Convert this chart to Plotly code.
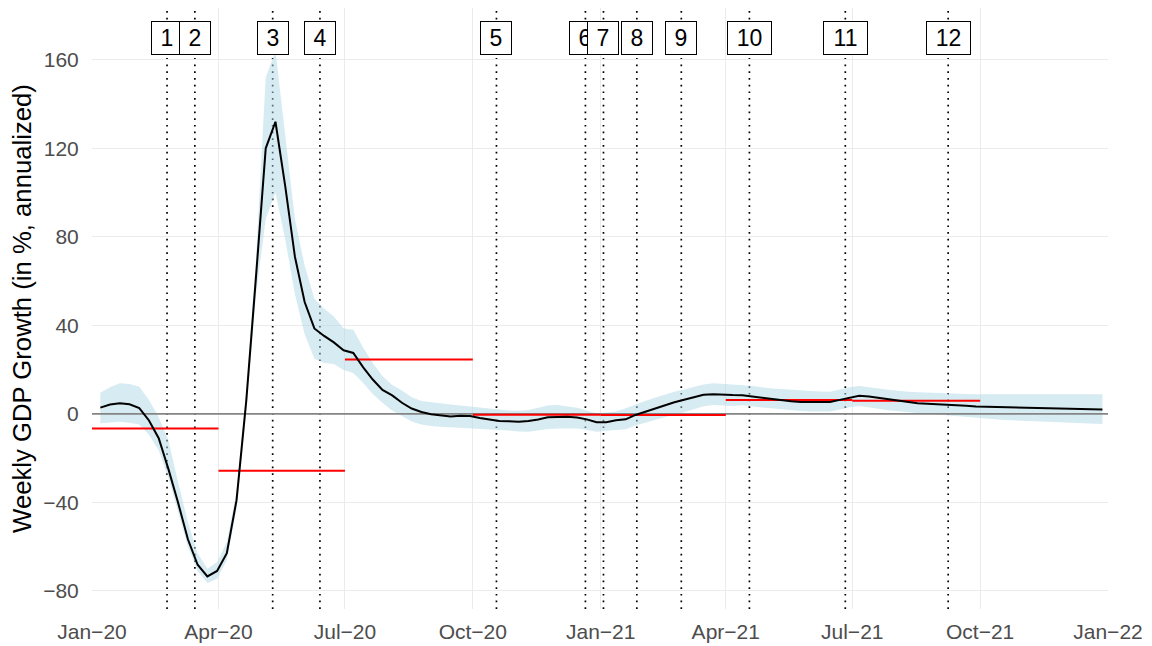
import pandas as pd
import plotly.graph_objects as go

# ---------------- data ----------------
dates = pd.date_range("2020-01-07", periods=104, freq="7D")

growth = [2.8, 4.2, 4.8, 4.3, 2.6, -3.0, -11.0, -25.0, -40.3, -56.7,
          -68.2, -73.5, -71.0, -63.0, -39.0, 6.0, 62.0, 120.0, 132.0, 103.0,
          71.0, 50.5, 38.6, 35.2, 32.3, 28.7, 27.5, 21.1, 15.5, 10.8,
          8.3, 5.0, 2.4, 0.8, -0.2, -0.8, -1.2, -0.9, -1.0, -1.9,
          -2.7, -3.2, -3.4, -3.6, -3.2, -2.6, -1.6, -1.3, -1.3, -1.7,
          -2.5, -3.8, -3.8, -2.9, -2.5, -0.5, 1.0, 2.4, 3.8, 5.2,
          6.4, 7.4, 8.6, 8.9, 8.6, 8.5, 8.4, 7.8, 7.2, 6.6,
          6.0, 5.7, 5.3, 5.2, 5.2, 5.3, 6.3, 7.3, 8.2, 7.8,
          7.2, 6.5, 5.8, 5.3, 4.8, 4.6, 4.4, 4.3, 4.0, 3.6,
          3.3, 3.2, 3.1, 3.0, 2.9, 2.8, 2.7, 2.5, 2.4, 2.3,
          2.2, 2.2, 2.2, 2.0]

upper = [9.5, 12.0, 13.8, 13.5, 12.2, 6.3, -1.6, -12.0, -31.0, -49.0,
         -63.0, -70.0, -67.0, -58.0, -35.0, 10.0, 70.0, 152.0, 164.0, 125.0,
         88.0, 67.0, 52.0, 47.5, 44.0, 38.6, 38.0, 30.0, 23.0, 17.0,
         13.0, 10.5, 7.5, 5.8, 5.2, 4.7, 4.2, 3.8, 3.3, 2.8,
         2.2, 1.7, 1.5, 1.4, 1.7, 2.8, 3.8, 4.0, 3.5, 2.8,
         1.5, 0.2, 0.6, 1.0, 2.5, 4.3, 5.8, 7.3, 8.8, 10.0,
         11.0, 12.2, 13.3, 13.8, 13.6, 13.2, 12.9, 12.6, 12.0, 11.5,
         11.2, 10.8, 10.5, 10.3, 10.1, 10.0, 11.0, 12.0, 12.6, 12.2,
         11.5, 10.9, 10.3, 10.0, 9.7, 9.5, 9.3, 9.2, 9.1, 9.0,
         8.9, 8.9, 8.9, 8.9, 8.9, 8.9, 8.9, 8.9, 8.9, 8.9,
         8.9, 8.9, 8.9, 8.9]

lower = [-4.3, -3.8, -3.6, -4.0, -4.8, -9.4, -16.5, -29.0, -44.0, -60.0,
         -71.0, -76.5, -74.5, -66.0, -43.0, 1.0, 54.0, 88.0, 100.0, 79.0,
         54.0, 36.0, 25.0, 23.0, 22.5, 19.8, 18.5, 14.0, 9.0, 5.0,
         1.5, -1.0, -3.5, -4.8, -5.5, -5.8, -6.1, -6.3, -6.6, -6.8,
         -7.0, -7.3, -7.5, -8.0, -8.1, -7.5, -6.8, -6.6, -6.6, -6.6,
         -7.2, -8.1, -7.6, -7.2, -7.0, -5.3, -4.0, -2.6, -1.3, -0.3,
         0.7, 2.0, 3.4, 4.0, 3.6, 3.5, 3.9, 3.3, 2.9, 2.5,
         2.0, 1.6, 1.3, 1.1, 1.0, 1.0, 2.0, 3.0, 3.5, 3.0,
         2.3, 1.6, 1.1, 0.8, 0.4, 0.0, -0.4, -0.8, -1.1, -1.5,
         -1.9, -2.2, -2.5, -2.8, -3.0, -3.3, -3.5, -3.7, -3.9, -4.1,
         -4.3, -4.4, -4.5, -4.6]

event_dates = ["2020-02-24", "2020-03-15", "2020-05-10", "2020-06-13",
               "2020-10-18", "2020-12-21", "2021-01-03", "2021-01-27",
               "2021-02-28", "2021-04-18", "2021-06-26", "2021-09-08"]
event_labels = ["1", "2", "3", "4", "5", "6", "7", "8", "9", "10", "11", "12"]

q_start = ["2020-01-01", "2020-04-01", "2020-07-01", "2020-10-01",
           "2021-01-01", "2021-04-01", "2021-07-01"]
q_end = ["2020-04-01", "2020-07-01", "2020-10-01", "2021-01-01",
         "2021-04-01", "2021-07-01", "2021-10-01"]
q_avg = [-6.6, -25.7, 24.6, -0.4, -0.5, 6.2, 5.9]

x_tick_dates = ["2020-01-01", "2020-04-01", "2020-07-01", "2020-10-01",
                "2021-01-01", "2021-04-01", "2021-07-01", "2021-10-01",
                "2022-01-01"]
x_tick_text = ["Jan\u221220", "Apr\u221220", "Jul\u221220", "Oct\u221220",
               "Jan\u221221", "Apr\u221221", "Jul\u221221", "Oct\u221221",
               "Jan\u221222"]
y_tick_vals = [-80, -40, 0, 40, 80, 120, 160]
y_tick_text = ["\u221280", "\u221240", "0", "40", "80", "120", "160"]

# ---------------- style ----------------
FONT = "Liberation Sans, Arial, Helvetica, sans-serif"
LABEL_Y = 170

fig = go.Figure()

# confidence band
fig.add_trace(go.Scatter(x=dates, y=upper, mode="lines", line=dict(width=0),
                         hoverinfo="skip", showlegend=False))
fig.add_trace(go.Scatter(x=dates, y=lower, mode="lines", line=dict(width=0),
                         fill="tonexty", fillcolor="rgba(173,216,230,0.5)",
                         hoverinfo="skip", showlegend=False))

# zero reference line (spans the x axis range)
fig.add_trace(go.Scatter(x=[x_tick_dates[0], x_tick_dates[-1]], y=[0, 0],
                         mode="lines", line=dict(color="#858585", width=1.8),
                         hoverinfo="skip", showlegend=False))

# quarterly averages
qx, qy = [], []
for s, e, v in zip(q_start, q_end, q_avg):
    qx += [s, e, None]
    qy += [v, v, None]
fig.add_trace(go.Scatter(x=qx, y=qy, mode="lines",
                         line=dict(color="#FF0000", width=2),
                         showlegend=False))

# weekly growth line
fig.add_trace(go.Scatter(x=dates, y=growth, mode="lines",
                         line=dict(color="black", width=2),
                         showlegend=False))

# event lines + labels
for d, lab in zip(event_dates, event_labels):
    fig.add_shape(type="line", x0=d, x1=d, xref="x", yref="paper", y0=0, y1=1,
                  line=dict(color="black", width=1.7, dash="1.7px,5px"),
                  layer="below")
    fig.add_annotation(x=d, y=LABEL_Y, text=lab, showarrow=False,
                       font=dict(family=FONT, size=23, color="black"),
                       bgcolor="white", bordercolor="black", borderwidth=1,
                       borderpad=2, width=26 if len(lab) == 1 else 39,
                       height=28)

# page body has an 8px margin, so the figure is 8px smaller than the window
fig.update_layout(
    width=1144, height=638,
    margin=dict(l=84, r=44, t=0, b=37, autoexpand=False),
    paper_bgcolor="white", plot_bgcolor="white",
    font=dict(family=FONT),
    showlegend=False,
)
fig.update_xaxes(
    type="date", range=["2020-01-01", "2022-01-01"],
    tickvals=x_tick_dates, ticktext=x_tick_text,
    showgrid=True, gridcolor="#EBEBEB", gridwidth=1,
    zeroline=False, showline=False, automargin=False,
    ticks="outside", ticklen=4, tickcolor="rgba(0,0,0,0)",
    tickfont=dict(family=FONT, size=21, color="#4D4D4D"),
)
fig.update_yaxes(
    range=[-88.2, 183.4],
    tickvals=y_tick_vals, ticktext=y_tick_text,
    showgrid=True, gridcolor="#EBEBEB", gridwidth=1,
    zeroline=False, showline=False, automargin=False,
    ticks="outside", ticklen=8, tickcolor="rgba(0,0,0,0)",
    tickfont=dict(family=FONT, size=21, color="#4D4D4D"),
    title=dict(text="Weekly GDP Growth (in %, annualized)",
               font=dict(family=FONT, size=25.7, color="black"), standoff=10),
)

fig.write_html("out.html")
